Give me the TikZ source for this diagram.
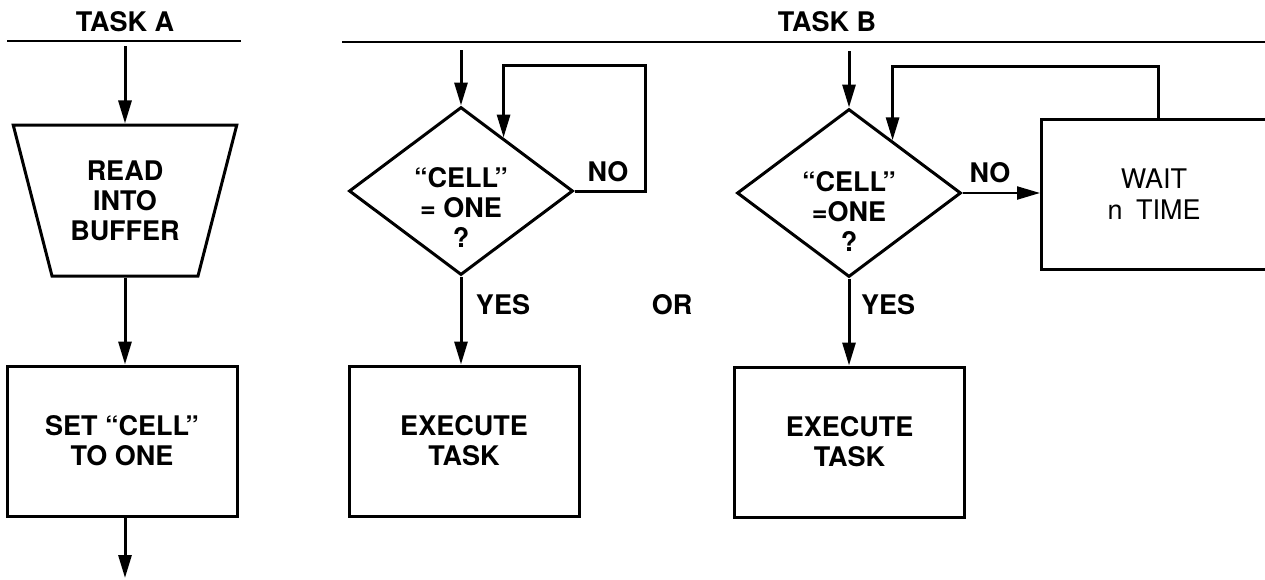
\documentclass[tikz,border=0pt]{standalone}
\usepackage{fontspec}
\setmainfont{TeX Gyre Heros}
\usetikzlibrary{arrows.meta,shapes.geometric,calc}
\begin{document}
\begin{tikzpicture}[x=1pt,y=-1pt,
  every node/.style={font=\fontsize{27}{30}\selectfont\bfseries, align=center, inner sep=0pt},
  flow/.style={line width=3pt, line join=miter},
  arr/.style={flow, -{Triangle[length=23pt,width=13pt]}},
  stepbox/.style={draw, line width=3pt, minimum width=230pt, minimum height=150pt},
  test/.style={draw, diamond, line width=3pt, minimum width=224pt, minimum height=168pt},
  rule/.style={line width=2.6pt}
]
\useasboundingbox (0,0) rectangle (1265,579);

% headings
\node (hA) at (125,22) {TASK A};
\node (hB) at (827,22) {TASK B};
\draw[rule] (7,41) -- (241,41);
\draw[rule] (342,42) -- (1265,42);

% ---- task A ----
\coordinate (inA) at (125,46);
\node[draw, trapezium, trapezium angle=70, shape border rotate=180,
      trapezium stretches=true, minimum width=224pt, minimum height=151pt,
      line width=3pt] (read) at (125,200.5) {READ\\INTO\\BUFFER};
\node[stepbox] (setc) at (122,441) {SET “CELL”\\TO ONE};
\coordinate (outA) at (125,578);
\draw[arr] (inA) -- (read.north);
\draw[arr] (read.south) -- (read.south |- setc.north);
\draw[arr] (read.south |- setc.south) -- (outA);

% ---- task B, first form ----
\coordinate (inB1) at (461,50);
\node[test] (d1) at (461,191) {};
\node (t1) at (461,207) {“CELL”\\= ONE\\?};
\draw[arr] (inB1) -- (d1.north);
\coordinate (ret1) at ($(d1.north)!0.375!(d1.east)$);
\coordinate (r1) at (645,65);
\draw[arr] (d1.east) -| (r1) -| (ret1);
\node (no1) at (608,172) {NO};
\node[stepbox] (ex1) at (464,441) {EXECUTE\\TASK};
\draw[arr] (d1.south) -- (d1.south |- ex1.north);
\node (yes1) at (503,305) {YES};

\node (or) at (672,305) {OR};

% ---- task B, second form ----
\coordinate (inB2) at (849,51);
\node[test] (d2) at (849,193) {};
\node (t2) at (849,211) {“CELL”\\=ONE\\?};
\draw[arr] (inB2) -- (d2.north);
\node[draw, line width=3pt, minimum width=260pt, minimum height=150pt,
      anchor=north west] (wait) at (1040,118) {};
\node[font=\fontsize{27}{31}\selectfont] (waittxt) at (1154,194) {WAIT\\n\hspace{0.5em}TIME};
\draw[arr, line width=2.2pt] (d2.east) -- (d2.east -| wait.west);
\node (no2) at (990,173) {NO};
\coordinate (ret2) at ($(d2.north)!0.384!(d2.east)$);
\coordinate (r2) at (1158,66);
\draw[arr] (wait.north -| r2) -- (r2) -| (ret2);
\node[stepbox] (ex2) at (849.5,442) {EXECUTE\\TASK};
\draw[arr] (d2.south) -- (d2.south |- ex2.north);
\node (yes2) at (888,305) {YES};
\end{tikzpicture}
\end{document}
